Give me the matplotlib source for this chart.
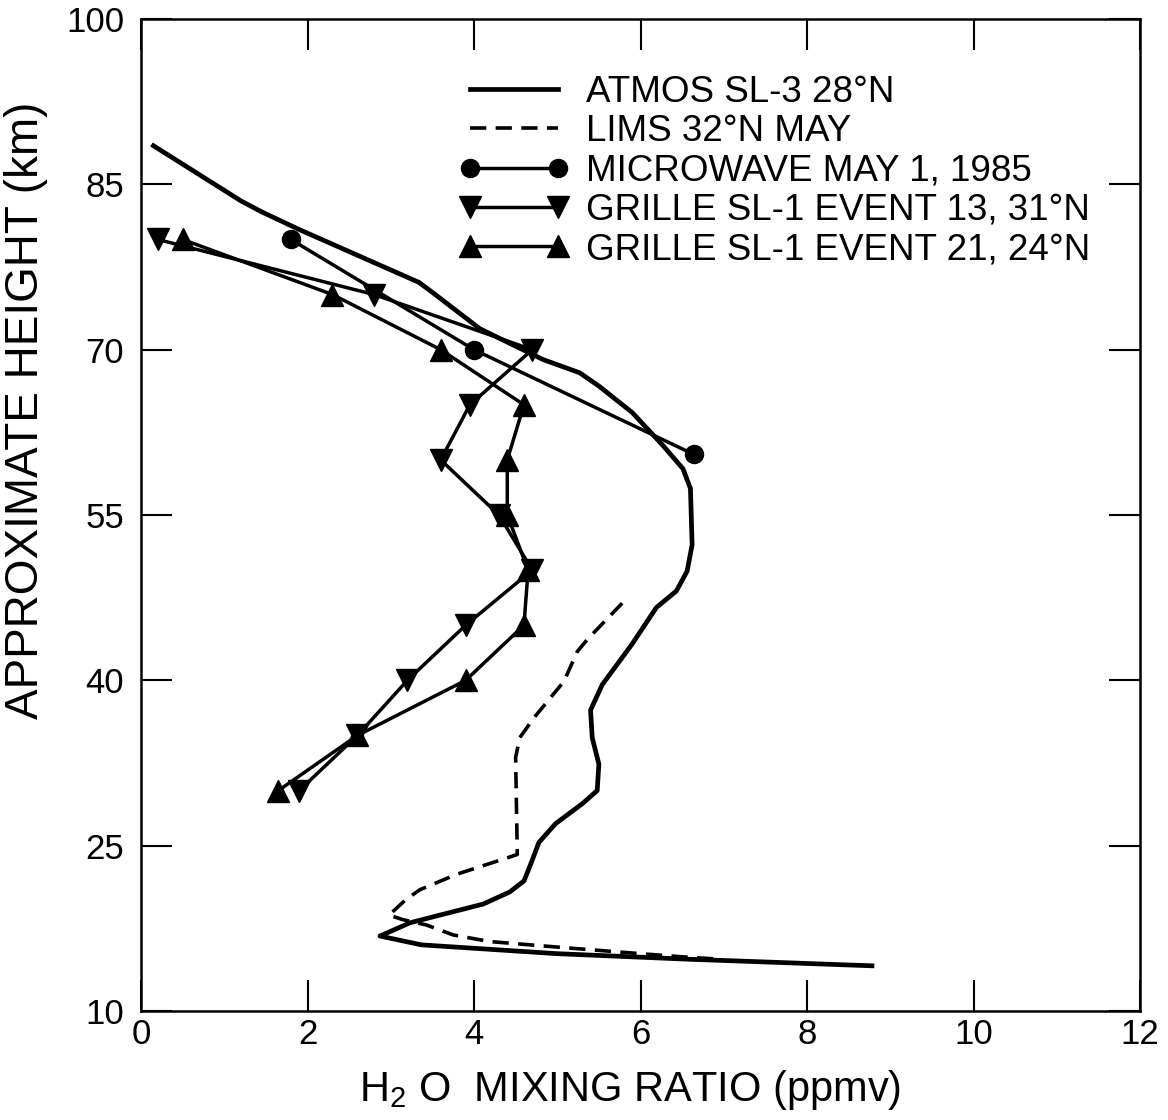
import numpy as np
import matplotlib
matplotlib.use("Agg")
import matplotlib.pyplot as plt

plt.rcParams['font.family'] = ['Liberation Sans', 'DejaVu Sans']
plt.rcParams['mathtext.default'] = 'regular'

# ATMOS SL-3 28N (solid curve)
atmos_x = [0.15, 1.2, 1.45, 1.9, 3.34, 3.5, 4.07, 4.83, 5.27, 5.5, 5.9, 6.27, 6.51, 6.6,
           6.62, 6.56, 6.43, 6.19, 5.9, 5.54, 5.4, 5.42, 5.5, 5.48, 5.3, 4.98, 4.78, 4.68,
           4.6, 4.43, 4.11, 3.59, 3.23, 2.87, 3.37, 5.0, 6.57, 8.78]
atmos_z = [88.5, 83.5, 82.5, 80.9, 76.1, 75.2, 71.9, 69.1, 67.9, 66.7, 64.3, 61.3, 59.2, 57.4,
           52.3, 49.9, 48.1, 46.6, 43.3, 39.6, 37.3, 34.8, 32.4, 30.0, 28.8, 27.0, 25.3, 23.3,
           21.8, 20.8, 19.7, 18.7, 18.0, 16.8, 16.0, 15.2, 14.7, 14.1]

# LIMS 32N May (dashed)
lims_x = [5.78, 5.36, 5.24, 5.08, 4.72, 4.55, 4.5, 4.52, 4.36, 3.79, 3.35, 3.18, 2.98, 3.14,
          3.43, 3.75, 4.19, 5.0, 6.0, 6.53, 6.95]
lims_z = [47.0, 43.7, 42.6, 39.9, 36.6, 34.8, 33.0, 24.2, 23.8, 22.4, 21.0, 20.1, 18.7, 18.3,
          17.8, 16.9, 16.3, 15.8, 15.2, 14.9, 14.7]

# microwave May 1, 1985
mw_x = [1.8, 4.0, 6.64]
mw_z = [80, 70, 60.5]

# GRILLE heights
grille_z = [80, 75, 70, 65, 60, 55, 50, 45, 40, 35, 30]
g13_x = [0.2, 2.8, 4.7, 3.95, 3.6, 4.3, 4.7, 3.9, 3.2, 2.6, 1.9]
g21_x = [0.5, 2.3, 3.6, 4.6, 4.4, 4.4, 4.65, 4.6, 3.9, 2.6, 1.65]

labels = ['ATMOS SL-3 28°N', 'LIMS 32°N MAY', 'MICROWAVE MAY 1, 1985',
          'GRILLE SL-1 EVENT 13, 31°N', 'GRILLE SL-1 EVENT 21, 24°N']

fig = plt.figure(figsize=(11.68, 11.2), dpi=100)
ax = fig.add_axes([141/1168, 1 - 1011/1120, (1140-141)/1168, (1011-19)/1120])

ax.plot(atmos_x, atmos_z, color='black', lw=3.4, label=labels[0])
ax.plot(lims_x, lims_z, color='black', lw=2.6, linestyle=(0, (4.5, 2.6)), label=labels[1])
ax.plot(mw_x, mw_z, color='black', lw=2.5, marker='o', markersize=13, label=labels[2])
ax.plot(g13_x, grille_z, color='black', lw=2.5, marker='v', markersize=16, label=labels[3])
ax.plot(g21_x, grille_z, color='black', lw=2.5, marker='^', markersize=16, label=labels[4])

ax.set_xlim(0, 12)
ax.set_ylim(10, 100)
ax.set_xticks(np.arange(0, 13, 2))
ax.set_yticks([10, 25, 40, 55, 70, 85, 100])
ax.tick_params(axis='both', direction='in', length=22, width=1.5, top=True, right=True,
               labelsize=25)
ax.tick_params(axis='x', pad=5)
ax.tick_params(axis='y', pad=12)
for s in ax.spines.values():
    s.set_linewidth(1.8)

ax.set_xlabel('H$_2$ O  MIXING RATIO (ppmv)', fontsize=30)
ax.xaxis.set_label_coords(0.49, -0.057)
ax.set_ylabel('APPROXIMATE HEIGHT (km)', fontsize=33)
ax.yaxis.set_label_coords(-0.093, 0.606)

ax.legend(loc='upper left', bbox_to_anchor=(0.318, 0.944), frameon=False, fontsize=26.5,
          numpoints=2, handlelength=3.0, handletextpad=0.45, labelspacing=0.12,
          borderpad=0, borderaxespad=0)

fig.savefig('out.png', dpi=100)
